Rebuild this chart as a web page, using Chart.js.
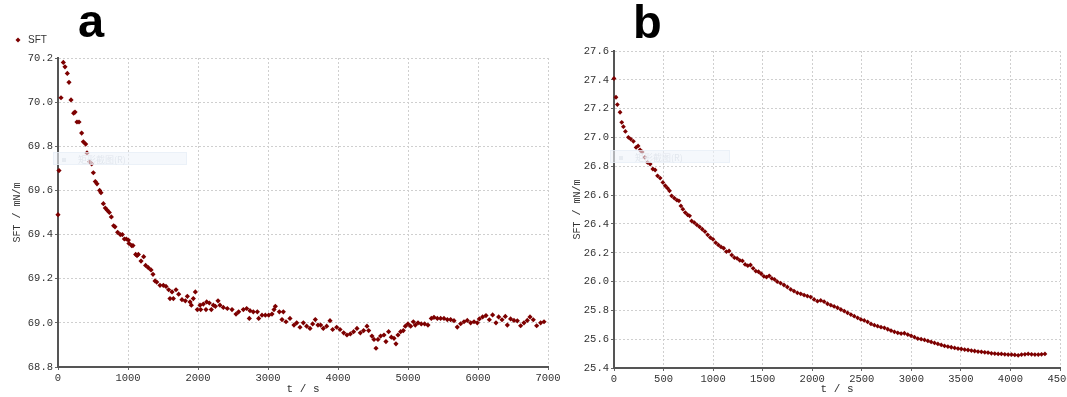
<!DOCTYPE html>
<html><head><meta charset="utf-8">
<script src="https://cdn.jsdelivr.net/npm/chart.js@4/dist/chart.umd.min.js"></script>
<style>
html,body{margin:0;padding:0;background:#fff;width:1067px;height:397px;overflow:hidden;position:relative}
canvas{position:absolute;top:0}
#ca{left:0}
#cb{left:560px}
.lbl{position:absolute;font:bold 47px "Liberation Sans",Arial,sans-serif;color:#000;line-height:47px}
.wm{position:absolute;height:13px;background:rgba(238,244,250,0.6);border:1px solid rgba(228,236,245,0.6);font:9px "Noto Sans CJK SC",sans-serif;color:#e2e7ee;line-height:13px;box-sizing:border-box}
.wm i{display:inline-block;width:4px;height:4px;background:#e6ebf1;margin:0 12px 1px 8px}
</style>
</head><body>
<canvas id="ca" width="560" height="397"></canvas>
<canvas id="cb" width="507" height="397"></canvas>
<div class="lbl" style="left:78px;top:-3px">a</div>
<div class="lbl" style="left:633px;top:-2px">b</div>
<div class="wm" style="left:53px;top:152px;width:134px"><i></i>矩形截图(R)</div>
<div class="wm" style="left:610px;top:150px;width:120px"><i></i>矩形截图(R)</div>
<script>
// ---- Panel a data ----
const seriesLabel = "SFT";
const xTitle = "t / s";
const yTitle = "SFT / mN/m";
const tA = [0,14,43,76,100,133,157,186,224,243,271,300,338,362,395,414,452,481,505,533,557,595,614,648,676,705,733,762,795,814,852,890,919,948,976,1005,1014,1052,1071,1110,1129,1148,1186,1224,1252,1290,1329,1357,1386,1410,1457,1505,1543,1581,1600,1629,1648,1686,1724,1771,1819,1848,1886,1905,1933,1962,1990,2029,2038,2076,2114,2124,2162,2190,2219,2248,2286,2314,2362,2419,2486,2543,2581,2648,2695,2733,2743,2790,2848,2867,2914,2962,3010,3057,3086,3105,3162,3200,3219,3257,3314,3371,3410,3457,3505,3552,3600,3638,3676,3714,3752,3790,3838,3886,3924,3981,4029,4081,4128,4176,4223,4271,4319,4366,4414,4438,4485,4514,4543,4571,4609,4657,4685,4723,4762,4800,4828,4857,4895,4933,4962,5000,5038,5076,5104,5143,5190,5238,5285,5333,5371,5419,5466,5514,5562,5609,5657,5704,5752,5800,5847,5895,5943,5990,6019,6066,6114,6162,6209,6257,6295,6343,6390,6419,6466,6514,6562,6609,6657,6704,6743,6790,6838,6895,6943];
const vA = [69.49,69.69,70.02,70.18,70.16,70.13,70.09,70.01,69.95,69.955,69.91,69.91,69.86,69.82,69.81,69.77,69.73,69.72,69.68,69.64,69.63,69.60,69.59,69.54,69.52,69.51,69.50,69.48,69.44,69.435,69.41,69.40,69.40,69.38,69.38,69.375,69.36,69.35,69.35,69.31,69.305,69.31,69.28,69.30,69.26,69.25,69.24,69.22,69.19,69.185,69.17,69.17,69.165,69.15,69.11,69.14,69.11,69.15,69.13,69.105,69.10,69.12,69.095,69.08,69.11,69.14,69.06,69.08,69.06,69.085,69.06,69.095,69.09,69.06,69.08,69.075,69.10,69.08,69.07,69.065,69.06,69.04,69.05,69.06,69.065,69.02,69.055,69.05,69.05,69.02,69.035,69.035,69.035,69.04,69.06,69.075,69.05,69.015,69.05,69.005,69.02,68.99,69.0,68.98,69.0,68.985,68.975,68.995,69.015,68.99,68.99,68.975,68.985,69.01,68.97,68.98,68.97,68.955,68.945,68.95,68.96,68.975,68.955,68.965,68.985,68.965,68.94,68.925,68.885,68.925,68.94,68.945,68.915,68.96,68.935,68.93,68.905,68.945,68.96,68.965,68.985,68.995,68.985,69.005,68.99,69.0,68.995,68.995,68.99,69.02,69.025,69.02,69.02,69.02,69.015,69.015,69.01,68.981,68.996,69.005,69.011,69.0,69.005,69.0,69.018,69.027,69.033,69.014,69.036,69.0,69.027,69.014,69.029,68.99,69.018,69.011,69.009,68.987,69.0,69.011,69.027,69.014,68.987,69.0,69.005];
const xTicksA = {min:0, max:7000, step:1000};
const yTicksA = {min:68.8, max:70.2, step:0.2};

// ---- Panel b data ----
const tB = [0,20,34,61,78,95,115,145,169,196,223,243,263,284,311,338,365,392,415,439,466,493,517,540,560,581,608,635,655,675,695,719,743,763,783,810,837,864,891,918,945,972,999,1026,1053,1080,1107,1134,1161,1188,1215,1242,1269,1296,1323,1350,1377,1404,1431,1458,1485,1512,1539,1566,1593,1620,1647,1681,1715,1749,1783,1816,1850,1884,1918,1951,1985,2019,2053,2086,2120,2154,2188,2221,2255,2289,2323,2356,2390,2424,2458,2491,2525,2559,2593,2627,2660,2694,2728,2762,2795,2829,2863,2897,2930,2964,2998,3032,3065,3099,3133,3167,3200,3234,3268,3302,3335,3369,3403,3437,3471,3504,3538,3572,3606,3639,3673,3707,3741,3774,3808,3842,3876,3909,3943,3977,4011,4044,4078,4112,4146,4179,4213,4247,4281,4314,4348];
const vB = [27.409,27.279,27.228,27.175,27.105,27.075,27.042,27.001,26.989,26.973,26.931,26.941,26.913,26.899,26.862,26.827,26.815,26.781,26.774,26.734,26.718,26.688,26.665,26.648,26.630,26.595,26.579,26.565,26.560,26.525,26.502,26.479,26.463,26.456,26.421,26.409,26.393,26.379,26.363,26.347,26.324,26.305,26.293,26.270,26.254,26.240,26.231,26.208,26.212,26.184,26.166,26.161,26.147,26.143,26.119,26.110,26.115,26.092,26.073,26.068,26.054,26.036,26.031,26.040,26.022,26.015,25.999,25.989,25.976,25.962,25.945,25.934,25.922,25.915,25.906,25.899,25.892,25.876,25.864,25.869,25.860,25.846,25.836,25.827,25.818,25.806,25.795,25.783,25.771,25.760,25.748,25.737,25.730,25.720,25.706,25.697,25.690,25.683,25.679,25.669,25.660,25.651,25.644,25.639,25.641,25.632,25.623,25.614,25.604,25.600,25.595,25.588,25.581,25.574,25.567,25.560,25.553,25.549,25.544,25.539,25.535,25.532,25.528,25.525,25.521,25.518,25.514,25.512,25.509,25.507,25.502,25.500,25.498,25.498,25.495,25.493,25.493,25.491,25.488,25.493,25.495,25.498,25.495,25.493,25.493,25.495,25.498];
const xTicksB = {min:0, max:4500, step:500};
const yTicksB = {min:25.4, max:27.6, step:0.2};

const pointColor = '#7d0000';
const tickFont = {family:'"Liberation Mono", monospace', size:10.5};
const titleFont = {family:'"Liberation Mono", monospace', size:10};

function pts(t, v){ return t.map((x,i)=>({x:x, y:v[i]})); }

function makeChart(id, t, v, xt, yt, pad, yWidth, xHeight, radius, legend){
  const legendPlugin = {
    id:'lg',
    afterDraw(c){
      if(!legend) return;
      const ctx=c.ctx; ctx.save();
      ctx.fillStyle=pointColor;
      ctx.beginPath(); ctx.moveTo(18,37.5); ctx.lineTo(20.5,40); ctx.lineTo(18,42.5); ctx.lineTo(15.5,40); ctx.closePath(); ctx.fill();
      ctx.fillStyle='#333'; ctx.font='10px "Liberation Sans", Arial, sans-serif';
      ctx.textBaseline='middle'; ctx.fillText(seriesLabel, 28, 40.5);
      ctx.restore();
    }
  };
  return new Chart(document.getElementById(id), {
    type:'scatter',
    data:{datasets:[{label:seriesLabel, data:pts(t,v), pointStyle:'rectRot', pointRadius:radius,
      backgroundColor:pointColor, borderColor:pointColor, borderWidth:0, showLine:false, clip:false}]},
    options:{
      responsive:false, animation:false, events:[],
      layout:{padding:pad},
      plugins:{legend:{display:false}, tooltip:{enabled:false}},
      scales:{
        x:{type:'linear', min:xt.min, max:xt.max,
          ticks:{stepSize:xt.step, color:'#333', font:tickFont, padding:2, maxRotation:0, autoSkip:false,
            callback:(val)=>String(Math.round(val))},
          grid:{color:'#cfcfcf', lineWidth:1, tickLength:3, tickColor:'#666'},
          border:{display:true, color:'#555', width:2, dash:[2,2]},
          title:{display:true, text:xTitle, color:'#333', font:{family:'"Liberation Mono", monospace', size:11}, padding:{top:0,bottom:1}},
          afterFit(s){ s.height = xHeight; s.paddingLeft = 0; s.paddingRight = 0; }
        },
        y:{type:'linear', min:yt.min, max:yt.max,
          ticks:{stepSize:yt.step, color:'#333', font:tickFont, padding:2, autoSkip:false,
            callback:(val)=>Number(val).toFixed(1)},
          grid:{color:'#cfcfcf', lineWidth:1, tickLength:3, tickColor:'#666'},
          border:{display:true, color:'#555', width:2, dash:[2,2]},
          title:{display:true, text:yTitle, color:'#333', font:titleFont, padding:{top:11,bottom:0}},
          afterFit(s){ s.width = yWidth; s.paddingTop = 0; s.paddingBottom = 0; }
        }
      }
    },
    plugins:[legendPlugin]
  });
}

const chA = makeChart('ca', tA, vA, xTicksA, yTicksA, {left:0, right:12, top:58, bottom:0}, 58, 30, 2.6, true);
const chB = makeChart('cb', tB, vB, xTicksB, yTicksB, {left:0, right:7, top:51, bottom:0}, 54, 29, 2.4, false);
</script>
</body></html>
